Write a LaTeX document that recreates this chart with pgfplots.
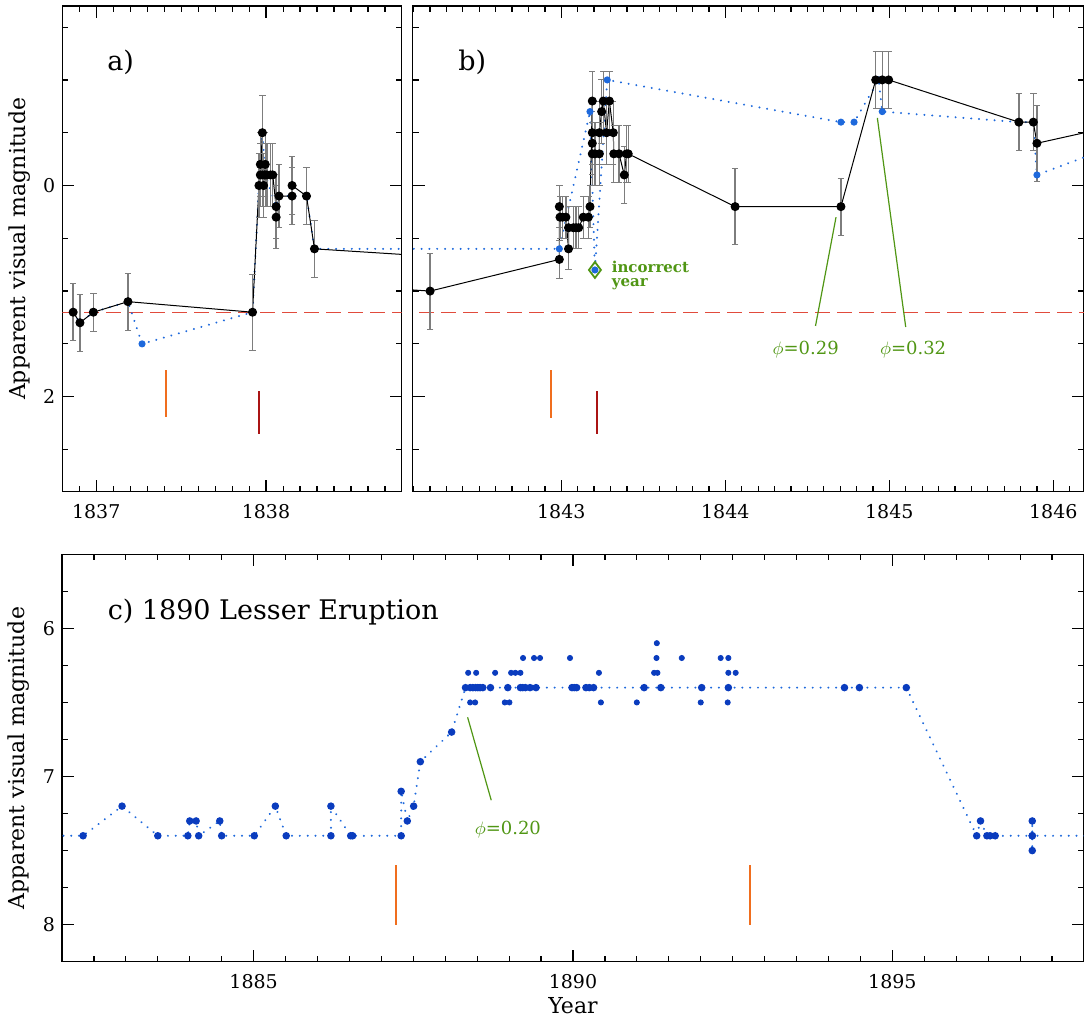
\documentclass[border=0pt]{standalone}
\usepackage{fontspec}
\setmainfont{DejaVu Serif}
\usepackage{pgfplots}
\pgfplotsset{compat=1.18}

\definecolor{bluel}{RGB}{30,105,220}
\definecolor{bluec}{RGB}{10,60,190}
\definecolor{reddash}{RGB}{225,75,60}
\definecolor{orangem}{RGB}{240,110,30}
\definecolor{darkredm}{RGB}{170,20,20}
\definecolor{greena}{RGB}{80,150,20}
\definecolor{errgray}{RGB}{125,125,125}

\pgfplotsset{
  magax/.style={
    scale only axis, y dir=reverse, clip=true,
    axis line style={line width=0.6pt},
    tick style={black, line width=0.6pt},
    major tick length=6pt, minor tick length=3pt,
    tick label style={font=\fontsize{9.5}{10}\selectfont},
    /pgf/number format/assume math mode=true,
    /pgf/number format/1000 sep={},
    xticklabel style={yshift=-3pt},
    label style={font=\fontsize{11}{12}\selectfont},
  },
  bdot/.style={bluel, line width=1.1pt, dash pattern=on 0.01pt off 3.9pt,
    line cap=round, mark=*, mark size=1.2pt,
    mark options={solid, fill=bluel, draw=bluel}},
  cdot/.style={draw=bluel, line width=1.1pt, dash pattern=on 0.01pt off 3.9pt,
    line cap=round, mark=*, mark size=1.3pt,
    mark options={solid, fill=bluec, draw=bluec}},
  kline/.style={black, line width=0.5pt, mark=*, mark size=2pt,
    mark options={fill=black},
    error bars/.cd, y dir=both, y explicit,
    error bar style={errgray, line width=0.7pt},
    error mark options={errgray, rotate=90, mark size=1.6pt, line width=0.5pt}},
  reddashed/.style={reddash, line width=0.6pt, dash pattern=on 7.5pt off 3.5pt},
}

\begin{document}
\begin{tikzpicture}
\useasboundingbox (0,0) rectangle (542pt,509pt);

% ---- a) 1837-1838
\begin{axis}[magax, at={(31.15pt,263.15pt)}, anchor=south west,
  width=169.7pt, height=242.85pt,
  xmin=1836.8, xmax=1838.8, ymin=-1.7, ymax=2.9,
  xtick={1837,1838}, minor xtick={1836.8,1836.9,...,1838.8},
  ytick={0,2}, minor ytick={-1.5,-1,-0.5,0.5,1,1.5,2.5},
  ylabel={Apparent visual magnitude},
  ylabel style={at={(axis description cs:-0.127,0.5)}, anchor=center}]
\addplot[reddashed] coordinates {(1836.8,1.2) (1838.8,1.2)};
\addplot[bdot] coordinates {
  (1836.864,1.2) (1836.904,1.3) (1836.983,1.2) (1837.187,1.1) (1837.27,1.5)
  (1837.921,1.2) (1837.959,0.0) (1837.967,-0.2) (1837.979,-0.5) (1837.996,-0.1)
  (1838.060,0.2) (1838.077,0.1) (1838.239,0.1) (1838.286,0.6) (1842.988,0.6)};
\addplot[orangem, line width=1pt] coordinates {(1837.41,1.75) (1837.41,2.19)};
\addplot[darkredm, line width=1pt] coordinates {(1837.96,1.95) (1837.96,2.35)};
\addplot[kline] coordinates {
  (1836.864,1.2) +- (0,0.27)
  (1836.904,1.3) +- (0,0.27)
  (1836.983,1.2) +- (0,0.18)
  (1837.187,1.1) +- (0,0.27)
  (1837.921,1.2) +- (0,0.36)
  (1837.959,0.0) +- (0,0.3)
  (1837.967,-0.2) +- (0,0.3)
  (1837.967,-0.1) +- (0,0.3)
  (1837.979,-0.5) +- (0,0.35)
  (1837.979,-0.1) +- (0,0.3)
  (1837.986,0.0) +- (0,0.3)
  (1837.996,-0.2) +- (0,0.3)
  (1837.996,-0.1) +- (0,0.3)
  (1838.006,-0.1) +- (0,0.3)
  (1838.026,-0.1) +- (0,0.3)
  (1838.040,-0.1) +- (0,0.3)
  (1838.060,0.2) +- (0,0.3)
  (1838.060,0.3) +- (0,0.3)
  (1838.077,0.1) +- (0,0.3)
  (1838.154,0.1) +- (0,0.27)
  (1838.154,0.0) +- (0,0.27)
  (1838.239,0.1) +- (0,0.27)
  (1838.286,0.6) +- (0,0.27)
  (1842.20,1.0) +- (0,0.36)};
\node[anchor=west, inner sep=0, font=\fontsize{13.5}{14}\selectfont]
  at (axis cs:1837.063,-1.17) {a)};
\end{axis}

% ---- b) 1842-1846
\begin{axis}[magax, at={(206.35pt,263.15pt)}, anchor=south west,
  width=335.65pt, height=242.85pt,
  xmin=1842.094, xmax=1846.187, ymin=-1.7, ymax=2.9,
  xtick={1843,1844,1845,1846}, minor xtick={1842.1,1842.2,...,1846.2},
  ytick={0,2}, yticklabels={}, minor ytick={-1.5,-1,-0.5,0.5,1,1.5,2.5}]
\addplot[reddashed] coordinates {(1842.0,1.2) (1846.3,1.2)};
\addplot[bdot] coordinates {
  (1838.286,0.6) (1842.988,0.6) (1843.175,-0.7) (1843.205,0.8) (1843.28,-1.0)
  (1844.705,-0.6) (1844.785,-0.6) (1844.935,-1.0) (1844.957,-0.7)
  (1845.79,-0.6) (1845.878,-0.6) (1845.90,-0.1) (1846.40,-0.39)};
\addplot[orangem, line width=1pt] coordinates {(1842.937,1.75) (1842.937,2.2)};
\addplot[darkredm, line width=1pt] coordinates {(1843.22,1.95) (1843.22,2.35)};
\addplot[greena, line width=0.6pt] coordinates {(1844.675,0.30) (1844.55,1.33)};
\addplot[greena, line width=0.6pt] coordinates {(1844.927,-0.64) (1845.10,1.34)};
\addplot[kline] coordinates {
  (1838.286,0.6) +- (0,0.27)
  (1842.20,1.0) +- (0,0.36)
  (1842.988,0.7) +- (0,0.18)
  (1842.988,0.2) +- (0,0.2)
  (1842.992,0.3) +- (0,0.2)
  (1843.008,0.3) +- (0,0.2)
  (1843.028,0.3) +- (0,0.2)
  (1843.044,0.6) +- (0,0.2)
  (1843.044,0.4) +- (0,0.2)
  (1843.073,0.4) +- (0,0.2)
  (1843.090,0.4) +- (0,0.2)
  (1843.106,0.4) +- (0,0.2)
  (1843.134,0.3) +- (0,0.2)
  (1843.165,0.3) +- (0,0.2)
  (1843.175,0.2) +- (0,0.2)
  (1843.189,-0.8) +- (0,0.28)
  (1843.189,-0.5) +- (0,0.3)
  (1843.189,-0.4) +- (0,0.3)
  (1843.189,-0.3) +- (0,0.3)
  (1843.205,-0.3) +- (0,0.3)
  (1843.232,-0.3) +- (0,0.3)
  (1843.232,-0.5) +- (0,0.3)
  (1843.246,-0.7) +- (0,0.3)
  (1843.256,-0.8) +- (0,0.28)
  (1843.276,-0.5) +- (0,0.3)
  (1843.293,-0.8) +- (0,0.28)
  (1843.317,-0.5) +- (0,0.3)
  (1843.320,-0.3) +- (0,0.27)
  (1843.352,-0.3) +- (0,0.27)
  (1843.384,-0.1) +- (0,0.27)
  (1843.398,-0.3) +- (0,0.27)
  (1843.408,-0.3) +- (0,0.27)
  (1844.06,0.2) +- (0,0.36)
  (1844.705,0.2) +- (0,0.27)
  (1844.917,-1.0) +- (0,0.27)
  (1844.957,-1.0) +- (0,0.27)
  (1844.996,-1.0) +- (0,0.27)
  (1845.79,-0.6) +- (0,0.27)
  (1845.878,-0.6) +- (0,0.27)
  (1845.90,-0.4) +- (0,0.36)
  (1846.48,-0.6) +- (0,0.3)};
\addplot[greena, only marks, mark=diamond, mark size=4pt,
  mark options={line width=0.9pt}] coordinates {(1843.205,0.8)};
\addplot[bluel, only marks, mark=*, mark size=1.2pt] coordinates {(1843.205,0.8)};
\node[anchor=west, inner sep=0, greena, align=left,
  font=\fontsize{7.5}{7}\selectfont\bfseries]
  at (axis cs:1843.306,0.85) {incorrect\\year};
\node[greena, inner sep=0, font=\fontsize{9}{10}\selectfont]
  at (axis cs:1844.49,1.55) {$\phi$=0.29};
\node[greena, inner sep=0, font=\fontsize{9}{10}\selectfont]
  at (axis cs:1845.145,1.55) {$\phi$=0.32};
\node[anchor=west, inner sep=0, font=\fontsize{13.5}{14}\selectfont]
  at (axis cs:1842.37,-1.17) {b)};
\end{axis}

% ---- c) 1890 Lesser Eruption
\begin{axis}[magax, at={(31pt,28.15pt)}, anchor=south west,
  width=511pt, height=203.7pt,
  xmin=1882, xmax=1898, ymin=5.5, ymax=8.25,
  xtick={1885,1890,1895}, minor xtick={1882,1882.5,...,1898},
  ytick={6,7,8}, minor ytick={5.5,5.75,...,8.25},
  ylabel={Apparent visual magnitude},
  ylabel style={at={(axis description cs:-0.042,0.5)}, anchor=center},
  xlabel={Year},
  xlabel style={at={(axis description cs:0.5,-0.108)}, anchor=center}]
\addplot[orangem, line width=1pt] coordinates {(1887.23,7.6) (1887.23,8.0)};
\addplot[orangem, line width=1pt] coordinates {(1892.77,7.6) (1892.77,8.0)};
\addplot[greena, line width=0.6pt] coordinates {(1888.35,6.60) (1888.72,7.16)};
\addplot[cdot] coordinates {
  (1881.9,7.4) (1882.33,7.4) (1882.94,7.2) (1883.50,7.4) (1883.97,7.4)
  (1884.00,7.3) (1884.10,7.3) (1884.14,7.4) (1884.47,7.3) (1884.50,7.4)
  (1885.01,7.4) (1885.34,7.2) (1885.51,7.4) (1886.21,7.4) (1886.21,7.2)
  (1886.52,7.4) (1886.55,7.4) (1887.31,7.4) (1887.31,7.1) (1887.406,7.3)
  (1887.505,7.2) (1887.61,6.9) (1888.10,6.7)
  (1888.317,6.4) (1888.39,6.4) (1888.432,6.4) (1888.474,6.4) (1888.51,6.4)
  (1888.546,6.4) (1888.588,6.4) (1888.708,6.4) (1888.979,6.4) (1889.177,6.4)
  (1889.213,6.4) (1889.255,6.4) (1889.328,6.4) (1889.421,6.4) (1889.984,6.4)
  (1890.02,6.4) (1890.057,6.4) (1890.203,6.4) (1890.255,6.4) (1890.322,6.4)
  (1891.114,6.4) (1891.375,6.4) (1892.015,6.4) (1892.432,6.4) (1894.25,6.4)
  (1894.484,6.4) (1895.218,6.4)
  (1896.32,7.4) (1896.38,7.3) (1896.48,7.4) (1896.53,7.4) (1896.61,7.4)
  (1897.19,7.4) (1897.19,7.3) (1897.19,7.5) (1897.19,7.4) (1898.2,7.4)};
\addplot[only marks, mark=*, mark size=1.3pt, bluec] coordinates {
  (1888.359,6.3) (1888.484,6.3) (1888.781,6.3) (1889.031,6.3) (1889.098,6.3)
  (1889.177,6.3) (1890.406,6.3) (1891.27,6.3) (1891.322,6.3) (1892.432,6.3)
  (1892.547,6.3)
  (1889.218,6.2) (1889.39,6.2) (1889.484,6.2) (1889.953,6.2) (1891.307,6.2)
  (1891.703,6.2) (1892.312,6.2) (1892.432,6.2)
  (1891.312,6.1)
  (1888.39,6.5) (1888.468,6.5) (1888.932,6.5) (1889.005,6.5) (1890.437,6.5)
  (1890.999,6.5) (1892.0,6.5) (1892.422,6.5)};
\node[greena, inner sep=0, font=\fontsize{9}{10}\selectfont]
  at (axis cs:1888.98,7.36) {$\phi$=0.20};
\node[anchor=west, inner sep=0, font=\fontsize{13.5}{14}\selectfont]
  at (axis cs:1882.71,5.888) {c) 1890 Lesser Eruption};
\end{axis}
\end{tikzpicture}
\end{document}
